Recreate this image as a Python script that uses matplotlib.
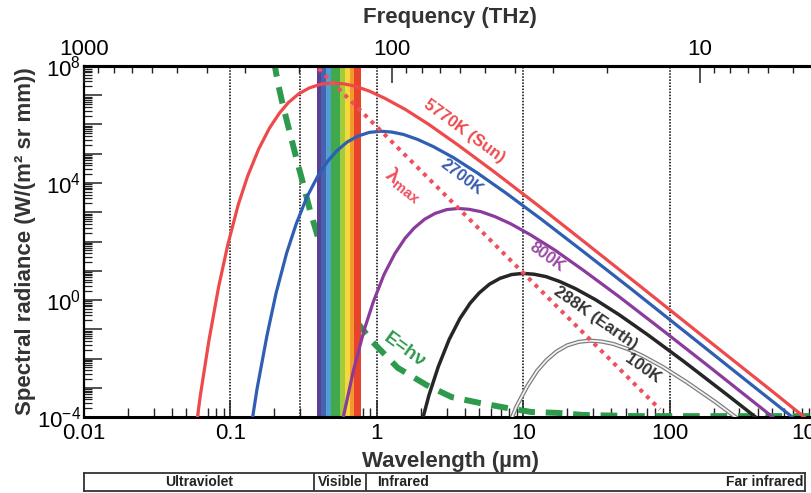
import numpy as np
import matplotlib
matplotlib.use('Agg')
import matplotlib.pyplot as plt
from matplotlib.ticker import LogLocator, FuncFormatter, NullFormatter, NullLocator

plt.rcParams.update({
    'font.family': ['Liberation Sans', 'DejaVu Sans'],
    'axes.unicode_minus': False,
    'mathtext.fontset': 'custom',
    'mathtext.rm': 'Liberation Sans',
    'mathtext.it': 'Liberation Sans:italic',
    'mathtext.bf': 'Liberation Sans:bold',
})

# ── data: wavelength (um) / log10 spectral radiance ──
sun_wl = [0.0554, 0.0623, 0.0713, 0.0831, 0.0959, 0.113, 0.131, 0.156, 0.185,
          0.217, 0.249, 0.293, 0.346, 0.416, 0.499, 0.594, 0.712, 0.891, 1.13,
          1.56, 2.27, 3.56, 6.23, 12.5, 24.9, 62.3, 166, 499, 997]
sun_logB = [-5.19, -3.27, -1.39, 0.45, 1.88, 3.25, 4.23, 5.16, 5.88,
            6.40, 6.75, 7.05, 7.25, 7.38, 7.42, 7.39, 7.31, 7.14, 6.90,
            6.52, 6.00, 5.31, 4.41, 3.25, 2.07, 0.49, -1.21, -3.11, -4.32]

k2700_wl = [0.133, 0.152, 0.178, 0.205, 0.242, 0.281, 0.333, 0.395, 0.463,
            0.533, 0.627, 0.740, 0.888, 1.07, 1.27, 1.52, 1.90, 2.42, 3.33,
            4.84, 7.61, 13.3, 26.6, 53.3, 133, 355, 1070]
k2700_logB = [-4.92, -3.04, -1.20, 0.23, 1.60, 2.59, 3.52, 4.23, 4.75,
              5.10, 5.40, 5.60, 5.73, 5.77, 5.74, 5.66, 5.49, 5.25, 4.87,
              4.35, 3.66, 2.76, 1.60, 0.42, -1.16, -2.86, -4.76]

k800_wl = [0.514, 0.600, 0.692, 0.818, 0.947, 1.12, 1.33, 1.56, 1.80, 2.12,
           2.50, 3.00, 3.60, 4.28, 5.14, 6.42, 8.18, 11.2, 16.4, 25.7, 45.0,
           89.9, 180, 450, 1200]
k800_logB = [-5.68, -3.84, -2.42, -1.04, -0.06, 0.87, 1.59, 2.11, 2.46, 2.76,
             2.96, 3.09, 3.13, 3.10, 3.02, 2.85, 2.61, 2.23, 1.71, 1.02, 0.12,
             -1.04, -2.22, -3.80, -5.50]

earth_wl = [1.92, 2.27, 2.63, 3.12, 3.70, 4.34, 5.00, 5.88, 6.94, 8.33, 9.99,
            11.9, 14.3, 17.8, 22.7, 31.2, 45.4, 71.4, 125, 250, 500]
earth_logB = [-4.63, -3.26, -2.28, -1.35, -0.63, -0.11, 0.24, 0.54, 0.74, 0.87,
              0.91, 0.88, 0.80, 0.63, 0.39, 0.01, -0.51, -1.20, -2.10, -3.26, -4.44]

k100_wl = [6.54, 7.57, 8.99, 10.7, 12.5, 14.4, 16.9, 20.0, 24.0, 28.8, 34.3,
           41.1, 51.4, 65.4, 89.9, 131, 206, 360]
k100_logB = [-5.56, -4.57, -3.64, -2.93, -2.41, -2.06, -1.76, -1.55, -1.43,
             -1.39, -1.42, -1.50, -1.67, -1.91, -2.29, -2.81, -3.49, -4.40]

lmax_wl = [0.40, 86]
lmax_logB = [7.91, -3.74]

hv_wl = [0.198, 0.211, 0.228, 0.255, 0.284, 0.313, 0.349, 0.396, 0.517, 0.686,
         0.939, 1.39, 2.19, 3.25, 5.05, 7.72, 11.4, 17.2, 25.5, 59.5, 1000]
hv_logB = [8.2, 7.42, 6.67, 5.71, 4.79, 4.00, 3.08, 2.15, 0.68, -0.58,
           -1.44, -2.32, -2.91, -3.32, -3.52, -3.69, -3.83, -3.86, -3.93, -3.97, -3.97]

vis_edges = [0.388, 0.419, 0.449, 0.483, 0.559, 0.605, 0.654, 0.697, 0.786]
vis_colors = ['#5a3f93', '#4763b0', '#4f9fd4', '#3fa94c', '#a3cb3b',
              '#f5d83c', '#f39a2c', '#e8442c']

grid_wl = [0.1, 0.3, 1, 10, 100]
freq_ticks = [1000, 100, 10]

band_names = ['Ultraviolet', 'Visible', 'Infrared', 'Far infrared']
band_edges = [0.01, 0.37, 0.84, 835]

RED = '#ee4a4c'
BLUE = '#2f5eb2'
PURPLE = '#8a3b9b'
BLACK = '#262626'
PINK = '#f0505c'
GREEN = '#2e9a4e'

fig = plt.figure(figsize=(8.12, 4.93), dpi=100)
ax = fig.add_axes([84/812, 76/493, 732/812, 351/493])
ax.set_xscale('log')
ax.set_yscale('log')
ax.set_xlim(0.01, 1000)
ax.set_ylim(1e-4, 1e8)

# dotted guides + visible spectrum band
for v in grid_wl:
    ax.axvline(v, color='black', lw=1.1, ls=(0, (1, 1)), zorder=1)
ax.plot(hv_wl, 10 ** np.array(hv_logB), color=GREEN, lw=4.3,
        ls=(0, (2.8, 1.8)), dash_capstyle='butt', zorder=1.8)
for lo, hi, c in zip(vis_edges[:-1], vis_edges[1:], vis_colors):
    ax.axvspan(lo, hi, color=c, lw=0, zorder=2)

# blackbody curves
ax.plot(sun_wl, 10 ** np.array(sun_logB), color=RED, lw=2.3, zorder=4)
ax.plot(k2700_wl, 10 ** np.array(k2700_logB), color=BLUE, lw=2.3, zorder=4)
ax.plot(k800_wl, 10 ** np.array(k800_logB), color=PURPLE, lw=2.3, zorder=4)
ax.plot(earth_wl, 10 ** np.array(earth_logB), color=BLACK, lw=2.5, zorder=4)
ax.plot(k100_wl, 10 ** np.array(k100_logB), color='#7a7a7a', lw=3.0, zorder=4)
ax.plot(k100_wl, 10 ** np.array(k100_logB), color='#f2f2f2', lw=1.3, zorder=4.1)
ax.plot(lmax_wl, 10 ** np.array(lmax_logB), color=PINK, lw=2.9,
        ls=(0, (1, 1.3)), dash_capstyle='butt', zorder=5)

lab = dict(fontsize=12, fontweight='bold', ha='center', va='center',
           rotation_mode='anchor', zorder=6)
ax.text(3.93, 10 ** 5.78, '5770K (Sun)', color=RED, rotation=-36, **lab)
ax.text(3.80, 10 ** 4.21, '2700K', color='#3a5cae', rotation=-37, **lab)
ax.text(1.53, 10 ** 3.93, r'$\mathregular{λ_{max}}$', color=PINK, rotation=-38,
        **{**lab, 'fontsize': 15})
ax.text(14.5, 10 ** 1.47, '800K', color='#9a4aa6', rotation=-36, **lab)
ax.text(31.3, 10 ** -0.62, '288K (Earth)', color='#333333', rotation=-35, **lab)
ax.text(65.4, 10 ** -2.36, '100K', color='#333333', rotation=-35, **lab)
ax.text(1.55, 10 ** -1.71, 'E=hν', color=GREEN, rotation=-36,
        **{**lab, 'fontsize': 14})

# ticks
ax.xaxis.set_major_locator(LogLocator(10, numticks=20))
ax.xaxis.set_minor_locator(LogLocator(10, subs=np.arange(2, 10), numticks=200))
ax.xaxis.set_major_formatter(FuncFormatter(lambda v, p: f'{v:g}'))
ax.xaxis.set_minor_formatter(NullFormatter())
ax.yaxis.set_major_locator(LogLocator(10, numticks=30))
ax.yaxis.set_minor_locator(LogLocator(10, subs=np.arange(2, 10), numticks=300))


def ylab(v, p):
    e = int(round(np.log10(v)))
    return r'$\mathregular{10^{%d}}$' % e if e % 4 == 0 else ''


ax.yaxis.set_major_formatter(FuncFormatter(ylab))
ax.yaxis.set_minor_formatter(NullFormatter())
ax.tick_params(axis='x', which='major', direction='in', length=12, width=1.1,
               labelsize=16, pad=4.5, top=False, color='#222')
ax.tick_params(axis='x', which='minor', direction='in', length=6.5, width=1.0,
               top=False, color='#222')
ax.tick_params(axis='y', which='major', direction='in', length=13, width=1.1,
               labelsize=16, pad=2, right=False, color='#222')
ax.tick_params(axis='y', which='minor', direction='in', length=5.5, width=0.9,
               right=False, color='#222')
ax.spines['right'].set_visible(False)
ax.spines['bottom'].set_linewidth(2.2)
ax.spines['left'].set_linewidth(1.6)
ax.spines['top'].set_linewidth(2.2)

ax.set_xlabel('Wavelength (µm)', fontsize=16, fontweight='bold', color='#333')
ax.xaxis.label.set_va('center')
ax.xaxis.set_label_coords(0.5, (417 - 462) / 351)
ax.set_ylabel('Spectral radiance (W/(m² sr mm))', fontsize=16,
              fontweight='bold', color='#333')
ax.yaxis.label.set_va('center')
ax.yaxis.set_label_coords((26 - 84) / 732, 0.5)

# top frequency axis
ax2 = ax.twiny()
ax2.set_xscale('log')
ax2.set_xlim(1000, 4.2)
ax2.set_xticks(freq_ticks)
ax2.xaxis.set_minor_locator(LogLocator(10, subs=np.arange(2, 10), numticks=100))
ax2.xaxis.set_major_formatter(FuncFormatter(lambda v, p: f'{v:g}'))
ax2.xaxis.set_minor_formatter(NullFormatter())
ax2.tick_params(axis='x', which='major', direction='in', length=12, width=1.1,
                labelsize=16, pad=4, color='#222')
ax2.tick_params(axis='x', which='minor', direction='in', length=5, width=1.0,
                color='#222')
for s in ['left', 'right', 'bottom']:
    ax2.spines[s].set_visible(False)
ax2.spines['top'].set_linewidth(2.2)
ax2.set_xlabel('Frequency (THz)', fontsize=16, fontweight='bold', color='#333')
ax2.xaxis.label.set_va('center')
ax2.xaxis.set_label_coords(0.5, (417 - 18) / 351)

# region strip under the axis
bax = fig.add_axes([84/812, 2/493, 721/812, 18/493])
bax.set_xscale('log')
bax.set_xlim(band_edges[0], band_edges[-1])
bax.set_ylim(0, 1)
bax.xaxis.set_major_locator(NullLocator())
bax.xaxis.set_minor_locator(NullLocator())
bax.set_yticks([])
for s in bax.spines.values():
    s.set_linewidth(1.3)
    s.set_color('#333')
for e in band_edges[1:-1]:
    bax.axvline(e, color='#333', lw=1.3)
bt = dict(fontsize=10, fontweight='bold', va='center', color='#222')
bax.text(np.sqrt(band_edges[0] * band_edges[1]), 0.5, band_names[0], ha='center', **bt)
bax.text(np.sqrt(band_edges[1] * band_edges[2]), 0.5, band_names[1], ha='center', **bt)
bax.text(band_edges[2] * 1.2, 0.5, band_names[2], ha='left', **bt)
bax.text(band_edges[3] * 0.97, 0.5, band_names[3], ha='right', **bt)

fig.savefig('out.png', dpi=100)
